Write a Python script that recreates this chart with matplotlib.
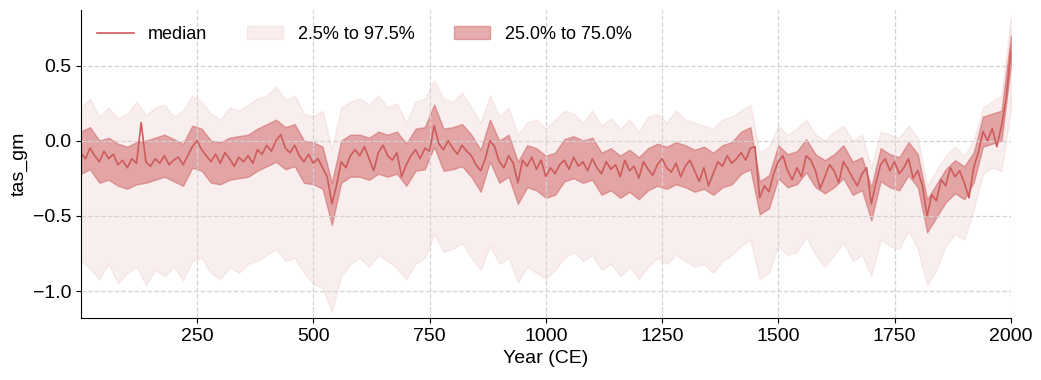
import numpy as np
import matplotlib
matplotlib.use("Agg")
import matplotlib.pyplot as plt

# ensemble of global mean tas at 10 / 20 year steps
years_med = np.arange(0, 2001, 10)
median = [
    -0.08, -0.12, -0.05, -0.10, -0.14, -0.07, -0.12, -0.09, -0.16, -0.13,
    -0.18, -0.12, -0.15, 0.12, -0.14, -0.17, -0.12, -0.15, -0.10, -0.16,
    -0.13, -0.11, -0.16, -0.10, -0.04, 0.00, -0.06, -0.10, -0.14, -0.09,
    -0.15, -0.08, -0.12, -0.17, -0.11, -0.14, -0.10, -0.15, -0.06, -0.09,
    -0.03, -0.07, 0.00, 0.04, -0.05, -0.08, -0.03, -0.10, -0.14, -0.09,
    -0.15, -0.12, -0.18, -0.24, -0.42, -0.30, -0.14, -0.18, -0.10, -0.06,
    -0.10, -0.04, -0.12, -0.20, -0.08, -0.03, -0.10, -0.13, -0.08, -0.24,
    -0.16, -0.10, -0.06, -0.12, -0.05, -0.07, 0.10, -0.02, -0.06, 0.00,
    -0.05, -0.09, -0.03, -0.07, -0.10, -0.16, -0.20, -0.12, 0.00, -0.04,
    -0.14, -0.18, -0.10, -0.15, -0.28, -0.13, -0.17, -0.11, -0.19, -0.13,
    -0.24, -0.18, -0.22, -0.16, -0.13, -0.19, -0.11, -0.17, -0.14, -0.20,
    -0.12, -0.18, -0.22, -0.14, -0.19, -0.16, -0.24, -0.13, -0.20, -0.17,
    -0.25, -0.14, -0.19, -0.23, -0.16, -0.12, -0.18, -0.21, -0.15, -0.24,
    -0.17, -0.13, -0.20, -0.27, -0.18, -0.30, -0.22, -0.14, -0.17, -0.10,
    -0.15, -0.12, -0.08, -0.13, -0.05, -0.04, -0.38, -0.30, -0.34, -0.22,
    -0.14, -0.10, -0.20, -0.26, -0.18, -0.24, -0.10, -0.13, -0.20, -0.32,
    -0.24, -0.16, -0.20, -0.28, -0.14, -0.19, -0.25, -0.30, -0.22, -0.18,
    -0.42, -0.28, -0.16, -0.12, -0.20, -0.14, -0.22, -0.18, -0.12, -0.25,
    -0.20, -0.30, -0.50, -0.36, -0.40, -0.26, -0.30, -0.18, -0.24, -0.20,
    -0.28, -0.38, -0.18, -0.08, 0.06, 0.00, 0.08, -0.04, 0.10, 0.28,
    0.60,
]

years_q = np.arange(0, 2001, 20)
q75 = [
    0.06, 0.09, 0.00, 0.02, -0.02, -0.04, -0.01, 0.00, 0.02, 0.04,
    0.01, -0.02, 0.10, 0.08, 0.00, -0.01, 0.02, 0.03, 0.04, 0.08,
    0.11, 0.14, 0.09, 0.11, 0.00, -0.01, -0.04, -0.28, 0.00, 0.04,
    0.04, 0.02, 0.06, 0.04, 0.06, -0.02, 0.08, 0.09, 0.24, 0.08,
    0.09, 0.11, 0.04, -0.06, 0.14, 0.00, 0.04, -0.14, -0.03, -0.05,
    -0.10, -0.08, 0.01, 0.03, 0.00, 0.02, -0.08, -0.05, -0.10, -0.06,
    -0.11, -0.05, -0.02, -0.04, -0.01, -0.03, -0.06, -0.04, -0.08, -0.03,
    -0.01, 0.06, 0.09, -0.27, -0.23, -0.03, -0.09, -0.07, 0.01, -0.09,
    -0.13, -0.09, -0.03, -0.14, -0.11, -0.31, -0.05, -0.09, -0.11, -0.01,
    -0.09, -0.39, -0.29, -0.19, -0.13, -0.17, -0.08, 0.16, 0.18, 0.20,
    0.70,
]
q25 = [
    -0.22, -0.19, -0.28, -0.26, -0.30, -0.32, -0.29, -0.28, -0.26, -0.24,
    -0.27, -0.30, -0.18, -0.20, -0.28, -0.29, -0.26, -0.25, -0.24, -0.20,
    -0.17, -0.14, -0.19, -0.17, -0.28, -0.29, -0.32, -0.56, -0.28, -0.24,
    -0.24, -0.26, -0.22, -0.24, -0.22, -0.30, -0.20, -0.19, -0.04, -0.20,
    -0.19, -0.17, -0.24, -0.34, -0.14, -0.28, -0.24, -0.42, -0.31, -0.33,
    -0.38, -0.36, -0.27, -0.25, -0.28, -0.26, -0.36, -0.33, -0.38, -0.34,
    -0.39, -0.33, -0.30, -0.32, -0.29, -0.31, -0.34, -0.32, -0.36, -0.31,
    -0.29, -0.22, -0.19, -0.49, -0.45, -0.25, -0.31, -0.29, -0.21, -0.31,
    -0.35, -0.31, -0.25, -0.36, -0.33, -0.53, -0.27, -0.31, -0.33, -0.23,
    -0.31, -0.61, -0.51, -0.41, -0.35, -0.39, -0.28, -0.04, -0.02, 0.00,
    0.50,
]
q975 = [
    0.22, 0.28, 0.16, 0.22, 0.15, 0.18, 0.26, 0.17, 0.22, 0.24,
    0.16, 0.20, 0.30, 0.26, 0.18, 0.14, 0.22, 0.20, 0.24, 0.28,
    0.30, 0.36, 0.27, 0.30, 0.18, 0.16, 0.20, -0.06, 0.22, 0.26,
    0.28, 0.24, 0.30, 0.22, 0.25, 0.12, 0.26, 0.28, 0.40, 0.28,
    0.26, 0.32, 0.22, 0.12, 0.30, 0.16, 0.22, 0.04, 0.12, 0.14,
    0.08, 0.14, 0.20, 0.18, 0.12, 0.20, 0.10, 0.15, 0.08, 0.14,
    0.06, 0.16, 0.18, 0.12, 0.20, 0.14, 0.12, 0.10, 0.08, 0.14,
    0.16, 0.20, 0.24, -0.08, -0.04, 0.10, 0.04, 0.08, 0.14, 0.04,
    0.00, 0.06, 0.10, 0.00, 0.04, -0.18, 0.06, 0.04, 0.02, 0.10,
    0.02, -0.30, -0.20, -0.10, -0.04, -0.10, 0.00, 0.22, 0.26, 0.30,
    0.82,
]
q025 = [
    -0.80, -0.85, -0.92, -0.82, -0.95, -0.88, -0.84, -0.96, -0.86, -0.90,
    -0.84, -0.93, -0.80, -0.78, -0.88, -0.92, -0.84, -0.88, -0.82, -0.80,
    -0.76, -0.72, -0.80, -0.78, -0.88, -0.95, -0.98, -1.14, -0.90, -0.82,
    -0.78, -0.84, -0.76, -0.80, -0.85, -0.92, -0.82, -0.78, -0.62, -0.74,
    -0.72, -0.68, -0.78, -0.86, -0.70, -0.82, -0.78, -0.94, -0.84, -0.88,
    -0.92, -0.86, -0.78, -0.74, -0.80, -0.76, -0.86, -0.82, -0.90, -0.84,
    -0.92, -0.84, -0.78, -0.82, -0.76, -0.80, -0.84, -0.82, -0.88, -0.80,
    -0.76, -0.70, -0.66, -0.92, -0.88, -0.70, -0.76, -0.74, -0.64, -0.76,
    -0.84, -0.76, -0.68, -0.80, -0.76, -0.90, -0.66, -0.70, -0.72, -0.60,
    -0.72, -0.96, -0.86, -0.70, -0.62, -0.66, -0.46, -0.22, -0.18, -0.20,
    0.20,
]

plt.rcParams['font.family'] = ['Liberation Sans', 'DejaVu Sans']
plt.rcParams['font.size'] = 14

color = 'indianred'

fig = plt.figure(figsize=(10.41, 3.8), dpi=100)
ax = fig.add_axes([0.078, 0.163, 0.893, 0.811])

ax.fill_between(years_q, q025, q975, color=color, alpha=0.1, label='2.5% to 97.5%')
ax.fill_between(years_q, q25, q75, color=color, alpha=0.5, label='25.0% to 75.0%')
ax.plot(years_med, median, color=color, lw=1.2, label='median')

ax.set_xlim(1, 2000)
ax.set_ylim(-1.18, 0.87)
ax.set_xticks([250, 500, 750, 1000, 1250, 1500, 1750, 2000])
ax.set_yticks([-1.0, -0.5, 0.0, 0.5])
ax.tick_params(labelsize=14)
ax.set_xlabel('Year (CE)', fontsize=14)
ax.set_ylabel('tas_gm', fontsize=14)
ax.grid(True, ls='--', color='lightgray', lw=0.9)
ax.spines['top'].set_visible(False)
ax.spines['right'].set_visible(False)

handles, labels = ax.get_legend_handles_labels()
order = [2, 0, 1]
ax.legend([handles[i] for i in order], [labels[i] for i in order],
          loc='upper left', ncol=3, frameon=False, fontsize=13,
          columnspacing=2.2)

fig.savefig('out.png', dpi=100)
